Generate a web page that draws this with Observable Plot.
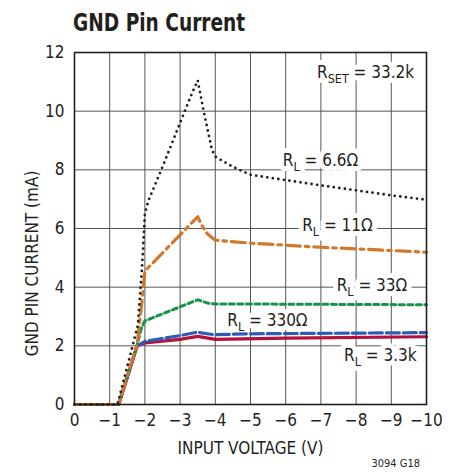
<!DOCTYPE html>
<html><head><meta charset="utf-8">
<script src="https://cdn.jsdelivr.net/npm/d3@7"></script>
<script src="https://cdn.jsdelivr.net/npm/@observablehq/plot@0.6"></script>
<style>
body{margin:0;background:#fff;}
#wrap{position:relative;width:456px;height:472px;font-family:"Liberation Sans Narrow","DejaVu Sans Condensed",sans-serif;color:#231f20;}
#title{position:absolute;left:73px;top:9px;font-size:24px;font-weight:bold;transform:scaleX(0.86);transform-origin:left top;white-space:nowrap;}
#caption{position:absolute;right:36px;top:457px;font-size:11px;}
#chart{position:absolute;left:0;top:40px;}
</style></head><body>
<div id="wrap"><div id="title">GND Pin Current</div><div id="chart"></div><div id="caption">3094 G18</div></div>
<script>
// Data (input voltage V, ground pin current mA)
const vin66 = [0,-1.22,-1.5,-1.8,-1.92,-2.0,-2.1,-2.5,-3.0,-3.3,-3.5,-3.67,-3.9,-4.0,-4.5,-5,-6,-7,-8,-9,-10];
const ig66  = [0,0,1.3,2.7,4.7,6.5,6.95,8.1,9.6,10.5,11.05,10.0,8.7,8.45,8.1,7.83,7.65,7.47,7.3,7.13,6.98];
const vin11 = [0,-1.25,-1.78,-1.92,-2.0,-3.5,-3.62,-3.77,-4.0,-5,-7,-9,-10];
const ig11  = [0,0,2.05,3.55,4.55,6.4,6.1,5.82,5.6,5.5,5.36,5.25,5.19];
const vin33 = [0,-1.25,-1.78,-1.9,-2.0,-3.5,-3.8,-4.0,-10];
const ig33  = [0,0,2.05,2.6,2.85,3.57,3.45,3.43,3.4];
const vin330 = [0,-1.25,-1.78,-2.0,-3.0,-3.5,-3.6,-3.95,-5,-10];
const ig330  = [0,0,2.0,2.15,2.35,2.47,2.44,2.38,2.41,2.45];
const vin3k3 = [0,-1.26,-1.78,-2.0,-3.0,-3.5,-4.0,-6,-10];
const ig3k3  = [0,0,2.0,2.1,2.22,2.32,2.22,2.26,2.31];

const xTicks = [0,-1,-2,-3,-4,-5,-6,-7,-8,-9,-10];
const yTicks = [0,2,4,6,8,10,12];

const lblMain = ["R","R","R","R","R","R"];
const lblSub  = ["SET","L","L","L","L","L"];
const lblRest = [" = 33.2k"," = 6.6Ω"," = 11Ω"," = 33Ω"," = 330Ω"," = 3.3k"];
const lblX = [-8.27,-6.99,-7.47,-8.45,-5.48,-8.69];
const lblY = [11.32,8.32,6.1,4.06,2.86,1.67];

const toRows = (xs, ys) => xs.map((x, i) => ({x, y: ys[i]}));
const labels = lblMain.map((m, i) => ({x: lblX[i], y: lblY[i], t: m + lblSub[i] + lblRest[i]}));

const subRender = (index, scales, values, dims, ctx, next) => {
  const g = next(index, scales, values, dims, ctx);
  d3.select(g).selectAll("text").each(function(_, j) {
    const i = index[j];
    const t = d3.select(this);
    t.text(null);
    t.append("tspan").text(lblMain[i]);
    t.append("tspan").attr("font-size", 12.5).attr("dy", 5).text(lblSub[i]);
    t.append("tspan").attr("dy", -5).text(lblRest[i]);
  });
  return g;
};

const ink = "#231f20";
const plot = Plot.plot({
  width: 456, height: 432,
  marginTop: 12, marginBottom: 68, marginLeft: 74, marginRight: 30,
  style: {fontFamily: '"Liberation Sans Narrow","DejaVu Sans Condensed",sans-serif', fontSize: "17px", color: ink, background: "#fff"},
  x: {domain: [0, -10]},
  y: {domain: [0, 12]},
  marks: [
    Plot.gridX(xTicks, {stroke: "#555", strokeOpacity: 1, strokeWidth: 1}),
    Plot.gridY(yTicks, {stroke: "#555", strokeOpacity: 1, strokeWidth: 1}),
    Plot.text(labels, {x: "x", y: "y", text: "t", fill: "white", stroke: "white", strokeWidth: 10, fontSize: 17, render: subRender}),
    Plot.text(labels, {x: "x", y: "y", text: "t", fill: ink, fontSize: 17, render: subRender}),
    Plot.line(toRows(vin3k3, ig3k3), {x: "x", y: "y", stroke: "#b3123b", strokeWidth: 3.2}),
    Plot.line(toRows(vin330, ig330), {x: "x", y: "y", stroke: "#2c5cb3", strokeWidth: 3.2, strokeDasharray: "13 4"}),
    Plot.line(toRows(vin33, ig33), {x: "x", y: "y", stroke: "#17924a", strokeWidth: 3, strokeDasharray: "5 3.5"}),
    Plot.line(toRows(vin11, ig11), {x: "x", y: "y", stroke: "#d2782c", strokeWidth: 3.2, strokeDasharray: "14 5 3.5 5"}),
    Plot.line(toRows(vin66, ig66), {x: "x", y: "y", stroke: ink, strokeWidth: 2.8, strokeDasharray: "0 5.6", strokeLinecap: "round"}),
    Plot.frame({stroke: ink, strokeWidth: 1.6}),
    Plot.axisX(xTicks, {tickSize: 0, tickPadding: 9, label: null, fontSize: 17, tickFormat: d => d === 0 ? "0" : "\u2212" + Math.abs(d)}),
    Plot.axisY(yTicks, {tickSize: 0, tickPadding: 10, label: null, fontSize: 17}),
    Plot.text(["INPUT VOLTAGE (V)"], {frameAnchor: "bottom", dy: 44, lineAnchor: "middle", fontSize: 17, fill: ink}),
    Plot.text(["GND PIN CURRENT (mA)"], {frameAnchor: "left", textAnchor: "middle", dx: -42, dy: 35, rotate: -90, fontSize: 17, fill: ink})
  ]
});
document.getElementById("chart").append(plot);
</script></body></html>
